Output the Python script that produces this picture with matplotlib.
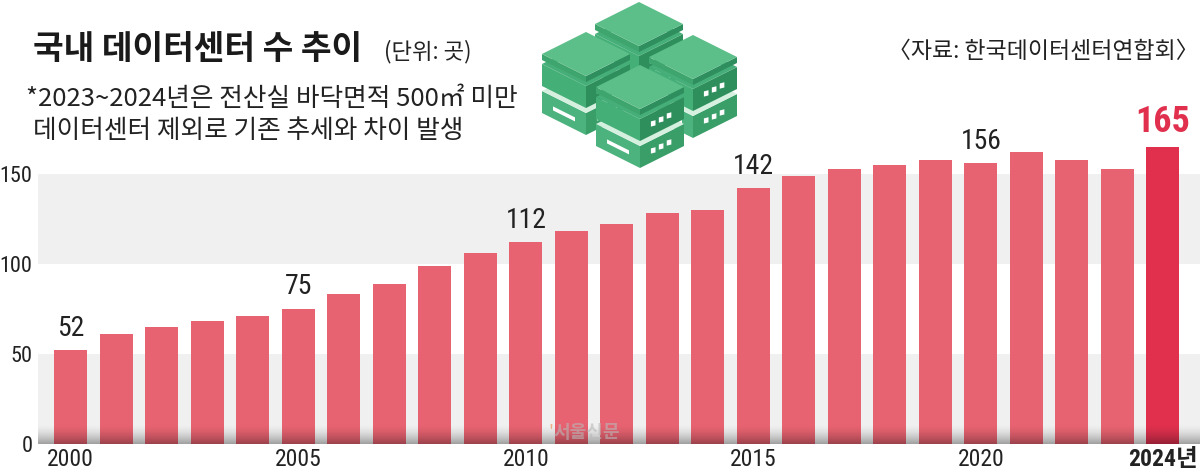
import numpy as np
import matplotlib
matplotlib.use("Agg")
import matplotlib.pyplot as plt
from matplotlib.patches import Polygon
from matplotlib import font_manager

# ---------------- data ----------------
years = list(range(2000, 2025))
counts = [52, 61, 65, 68, 71, 75, 83, 89, 99, 106, 112, 118, 122, 128, 130,
          142, 149, 153, 155, 158, 156, 162, 158, 153, 165]
label_years = [2000, 2005, 2010, 2015, 2020]
tick_years = [2000, 2005, 2010, 2015, 2020, 2024]
tick_labels = ["2000", "2005", "2010", "2015", "2020", "2024년"]
y_ticks = [0, 50, 100, 150]

title = "국내 데이터센터 수 추이"
unit = "(단위: 곳)"
note1 = "*2023~2024년은 전산실 바닥면적 500㎡ 미만"
note2 = "데이터센터 제외로 기존 추세와 차이 발생"
source = "〈자료: 한국데이터센터연합회〉"

# ---------------- fonts ----------------
plt.rcParams['font.family'] = ['Noto Sans CJK KR', 'DejaVu Sans']
entries = font_manager.fontManager.ttflist
num_family, num_stretch = 'Liberation Sans', 'normal'
pref = ['Roboto Condensed', 'Liberation Sans Narrow', 'Arial Narrow', 'Noto Sans',
        'DejaVu Sans', 'Open Sans', 'Roboto', 'Lato', 'Inter']
found = {}
for f in entries:
    st = str(f.stretch)
    if 'Narrow' in f.name or 'Condensed' in f.name:
        found.setdefault(f.name, 'normal')
    elif 'condensed' in st and 'semi' not in st:
        found.setdefault(f.name, st)
for p in pref:
    if p in found:
        num_family, num_stretch = p, found[p]
        break
NUM = [num_family, 'Noto Sans CJK KR']

BAR = '#E86371'
HL = '#E0304E'
BAND = '#F0F0F0'
TXT = '#222222'
W, H = 1200, 476

fig = plt.figure(figsize=(12, 4.76), dpi=100)
fig.patch.set_facecolor('white')

def fx(px):
    return px / W

def fy(py):
    return 1 - py / H

ax_left, ax_right = 38, 1200
ax_bottom, ax_top = 443.5, 80
ax = fig.add_axes([fx(ax_left), fy(ax_bottom), fx(ax_right - ax_left), (ax_bottom - ax_top) / H])
px_per_year = 45.5
x0 = 2000 - (70.8 - ax_left) / px_per_year
x1 = 2024 + (ax_right - 1163) / px_per_year
px_per_unit = 1.797
ymax = (ax_bottom - ax_top) / px_per_unit

for lo in (0, 100):
    ax.axhspan(lo, lo + 50, color=BAND, zorder=0, lw=0)

colors = [HL if y == 2024 else BAR for y in years]
ax.bar(years, counts, width=0.725, color=colors, zorder=2, lw=0)

# bottom shadow gradient (transparent at top -> darker at baseline)
grad = np.zeros((64, 2, 4))
grad[..., 3] = (np.linspace(0.0, 1.0, 64)[:, None] ** 1.6) * 0.34
ax.imshow(grad, extent=[x0, x1, 0, 11], aspect='auto', zorder=3,
          interpolation='bilinear', origin='upper')
ax.set_xlim(x0, x1)
ax.set_ylim(0, ymax)

for y, c in zip(years, counts):
    if y in label_years:
        ax.annotate(str(c), (y, c), xytext=(0, 6), textcoords='offset points',
                    ha='center', va='bottom', fontsize=20, color=TXT,
                    family=NUM, fontstretch=num_stretch, zorder=5)
    elif y == 2024:
        ax.annotate(str(c), (y, c), xytext=(0, 5), textcoords='offset points',
                    ha='center', va='bottom', fontsize=26, color=HL,
                    fontweight='bold', family=NUM, fontstretch=num_stretch, zorder=5)

for s in ax.spines.values():
    s.set_visible(False)
ax.set_xticks(tick_years)
ax.set_xticklabels(tick_labels)
ax.set_yticks(y_ticks)
ax.tick_params(axis='x', length=0, pad=3)
ax.tick_params(axis='y', length=0, pad=4)
for lbl in ax.get_xticklabels():
    lbl.set_family(NUM)
    lbl.set_stretch(num_stretch)
    lbl.set_fontsize(17)
    lbl.set_color(TXT)
    if lbl.get_text().endswith('년'):
        lbl.set_fontweight('bold')
for lbl in ax.get_yticklabels():
    lbl.set_family(NUM)
    lbl.set_stretch(num_stretch)
    lbl.set_fontsize(16)
    lbl.set_color(TXT)

# watermark
fig.text(fx(548), fy(433), "'", color='#F0A070', fontsize=13, alpha=0.8, va='center', ha='left')
fig.text(fx(553), fy(433), "서울신문", color='#B8B8B8', fontsize=13, alpha=0.6,
         fontweight='bold', va='center', ha='left')

# ---------------- header text ----------------
fig.text(fx(33), fy(50), title, fontsize=24, fontweight='bold', color='#1a1a1a',
         va='center', ha='left')
fig.text(fx(384), fy(52), unit, fontsize=16, color=TXT, va='center', ha='left')
fig.text(fx(26), fy(99), note1, fontsize=18.5, color=TXT, va='center', ha='left')
fig.text(fx(33), fy(131), note2, fontsize=18.5, color=TXT, va='center', ha='left')
fig.text(fx(1199), fy(51), source, fontsize=16.5, color=TXT, va='center', ha='right')

# ---------------- icon (isometric server stacks) ----------------
def P(pts):
    return [(fx(x), fy(y)) for x, y in pts]

def poly(pts, c):
    fig.patches.append(Polygon(P(pts), closed=True, fc=c, ec='none', transform=fig.transFigure))

def iso(cx, top, hw, hh, depth, ctop, cl, cr, inset=None, dots=False, slot=False):
    t = [(cx, top), (cx + hw, top + hh), (cx, top + 2 * hh), (cx - hw, top + hh)]
    l = [(cx - hw, top + hh), (cx, top + 2 * hh), (cx, top + 2 * hh + depth), (cx - hw, top + hh + depth)]
    r = [(cx + hw, top + hh), (cx, top + 2 * hh), (cx, top + 2 * hh + depth), (cx + hw, top + hh + depth)]
    poly(l, cl)
    poly(r, cr)
    poly(t, ctop)
    if inset is not None:
        k = 0.72
        ti = [(cx, top + hh - hh * k), (cx + hw * k, top + hh), (cx, top + hh + hh * k), (cx - hw * k, top + hh)]
        poly(ti, inset)
    if dots:
        for i in range(3):
            t_ = 0.30 + 0.18 * i
            dx = cx + hw * t_
            dy = top + 2 * hh - hh * t_ + depth * 0.5
            poly([(dx - 2.3, dy - 2.0), (dx + 2.3, dy - 3.2), (dx + 2.3, dy + 2.0), (dx - 2.3, dy + 3.2)], 'white')
    if slot:
        a, b = 0.25, 0.75
        y0 = top + hh + depth * 0.45
        poly([(cx - hw * b, y0 + hh * a), (cx - hw * a, y0 + hh * (1 - a) + 0),
              (cx - hw * a, y0 + hh * (1 - a) + 4), (cx - hw * b, y0 + hh * a + 4)], 'white')

def stack(cx, top, hw=44, hh=22):
    b2 = top + 10 + 27
    iso(cx, b2, hw, hh, 22, '#D6F0E0', '#4DB37E', '#3A9E69', dots=True, slot=True)
    b1 = top + 10
    iso(cx, b1, hw, hh, 22, '#46AE79', '#45AF78', '#2E8F5D', inset='white', dots=True)
    iso(cx, top, hw, hh, 6, '#5CBE88', '#3FA56F', '#2F8E5E')

stack(639, 2)
stack(586, 32)
stack(693, 35)
stack(640, 65)

fig.savefig('out.png', dpi=100, facecolor='white')
